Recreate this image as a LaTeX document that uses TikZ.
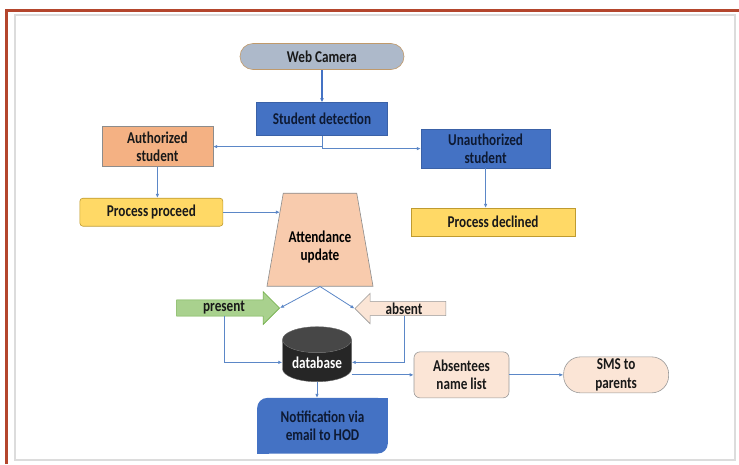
\documentclass[tikz,border=0pt]{standalone}
\usepackage{fontspec}
\setmainfont{Carlito}[FakeStretch=0.8]
\usetikzlibrary{positioning,calc,backgrounds,shapes.geometric,shapes.arrows,arrows.meta}
\definecolor{boxblue}{HTML}{4472C4}
\definecolor{navytext}{HTML}{0E1A33}
\definecolor{camgray}{HTML}{ADB9CA}
\definecolor{camedge}{HTML}{C09A6B}
\definecolor{authorange}{HTML}{F4B183}
\definecolor{procyellow}{HTML}{FFD966}
\definecolor{procedge}{HTML}{BF9B30}
\definecolor{trapfill}{HTML}{F8CBAD}
\definecolor{presgreen}{HTML}{A9D18E}
\definecolor{presedge}{HTML}{70AD47}
\definecolor{peach}{HTML}{FBE5D6}
\definecolor{flowblue}{HTML}{5B87C7}
\definecolor{frameorange}{HTML}{B4462D}
\definecolor{framegray}{HTML}{DCDCDC}

\begin{document}
\begin{tikzpicture}[
    x=1pt, y=-1pt,
    font=\fontsize{16.5}{18.5}\selectfont\bfseries,
    box/.style={draw, align=center, line width=0.6pt, inner sep=2pt, text=black!90},
    camera/.style={box, rounded corners=13pt, fill=camgray, draw=camedge, minimum width=164pt, minimum height=26pt},
    bluebox/.style={box, fill=boxblue, draw=boxblue!85!black, text=navytext},
    authbox/.style={box, fill=authorange, draw=black!45},
    procbox/.style={box, fill=procyellow, draw=procedge, minimum height=28pt},
    trapbox/.style={box, trapezium, trapezium stretches=true, trapezium left angle=77.5, trapezium right angle=77.5, fill=trapfill, draw=black!45, minimum width=106pt, minimum height=93pt},
    blockarrow/.style={box, single arrow, single arrow head extend=8pt, inner sep=1pt},
    dbstyle/.style={cylinder, shape border rotate=90, aspect=0.5, draw=black!60, cylinder uses custom fill, cylinder body fill=black!85, cylinder end fill=black!72, text=white, minimum width=69pt, minimum height=55pt, inner sep=1pt},
    peachbox/.style={box, fill=peach, draw=black!40},
    flow/.style={-{Latex[length=4pt,width=3.5pt]}, line width=0.8pt, draw=flowblue},
    thick flow/.style={-{Latex[length=4pt,width=4pt]}, line width=2.2pt, draw=boxblue},
]
\useasboundingbox (0,0) rectangle (739,464);
\draw[framegray, line width=1.2pt] (15,15) rectangle (735,460);
\draw[frameorange, line width=3.5pt] (6.5,464) -- (6.5,10.5) -- (739,10.5);

\node[camera] (cam) at (322,56.5) {Web Camera};
\node[bluebox, below=32.5pt of cam, minimum width=131pt, minimum height=33pt] (det) {Student detection};
\node[authbox, left=43pt of det, yshift=-27.5pt, minimum width=111pt, minimum height=40pt] (auth) {Authorized\\student};
\node[bluebox, right=33pt of det, yshift=-29.5pt, minimum width=129pt, minimum height=39pt] (unauth) {Unauthorized\\student};
\node[procbox, rounded corners=3pt, below=31pt of auth, xshift=-6pt, minimum width=143pt] (proceed) {Process proceed};
\node[procbox, below=39.5pt of unauth, xshift=7.5pt, minimum width=164pt] (declined) {Process declined};
\node[trapbox, below=57pt of det, xshift=-2pt, label={[align=center, yshift=-7.5pt]center:Attendance\\update}] (upd) {};
\coordinate (updin) at ($(upd.top left corner)!0.19!(upd.bottom left corner)$);

\node[blockarrow, fill=presgreen, draw=presedge, minimum height=103pt, minimum width=33pt] (present) at ($(upd.south)+(-96,21.5)$) {present};
\node[blockarrow, shape border rotate=180, fill=peach, draw=black!40, minimum height=91pt, minimum width=29pt] (absent) at ($(upd.south)+(84,22)$) {absent};

\node[dbstyle, below=40pt of upd, xshift=-3pt] (db) {database};
\node[box, draw=none, below=16pt of db, xshift=5.5pt, minimum width=130pt, minimum height=55pt, text=navytext] (hod) {Notification via\\email to HOD};
\begin{scope}[on background layer]
\fill[white] (0,0) rectangle (739,464);
\fill[boxblue, rounded corners=10pt] (hod.south west) rectangle (hod.north east);
\fill[boxblue] (hod.north east) rectangle ++(-12,12);
\fill[boxblue] (hod.south west) rectangle ++(12,-12);
\end{scope}
\node[peachbox, rounded corners=6pt, right=62pt of db, yshift=-12.5pt, minimum width=95pt, minimum height=46pt] (absentees) {Absentees\\name list};
\node[peachbox, rounded corners=17pt, right=54pt of absentees, minimum width=105pt, minimum height=36pt] (sms) {SMS to\\parents};

\draw[thick flow] (cam) -- (det);
\draw[flow] (det.south) |- (auth.east);
\draw[flow] (det.south) |- (unauth.west);
\draw[flow] (auth.south) -- (auth.south |- proceed.north);
\draw[flow] (unauth.south) -- (unauth.south |- declined.north);
\draw[flow] (proceed.east) -- (proceed.east -| updin);
\draw[flow] (upd.south) -- (present.tip);
\draw[flow] (upd.south) -- (absent.tip);
\draw[flow] (present.south) |- (db.west);
\draw[flow] (absent.south) |- (db.east);
\draw[flow] (db.east |- absentees.west) -- (absentees.west);
\draw[flow] (absentees) -- (sms);
\draw[flow] (db.south) -- (db.south |- hod.north);
\end{tikzpicture}
\end{document}
